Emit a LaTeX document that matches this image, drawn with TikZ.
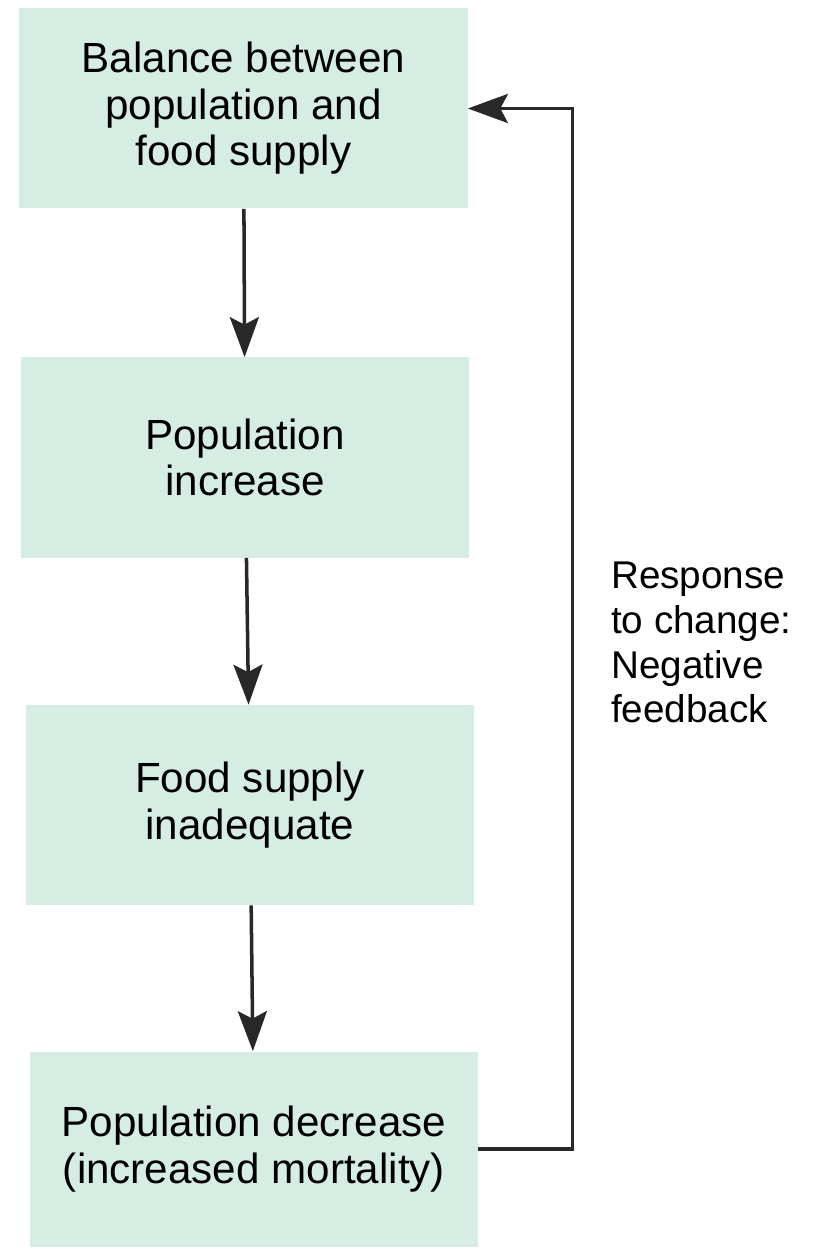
\documentclass[tikz,border=0pt]{standalone}
\usepackage{fontspec}
\setmainfont{Liberation Sans}
\usepackage{tikz}
\usetikzlibrary{arrows.meta}
\definecolor{mint}{RGB}{214,237,228}
\definecolor{ink}{RGB}{40,40,40}

\begin{document}
\begin{tikzpicture}[
    box/.style={rectangle,fill=mint,minimum width=8.96cm,minimum height=4cm,align=center,
                font=\fontsize{24}{26.5}\selectfont},
    arr/.style={line width=2pt,draw=ink,-{Stealth[length=0.8cm,width=0.58cm,inset=0.15cm]}}]
    % negative feedback loop: four stages and the return path
    \useasboundingbox (0,0) rectangle (16.38,-24.98);
    \node[box] (B1) at (4.87,-2.17) {Balance between\\population and\\food supply};
    \node[box] (B2) at (4.90,-9.15) {Population\\increase};
    \node[box] (B3) at (5.00,-16.10) {Food supply\\inadequate};
    \node[box,minimum height=3.9cm] (B4) at (5.08,-22.98) {Population decrease\\(increased mortality)};
    \node[anchor=west,align=left,font=\fontsize{22}{25.5}\selectfont] (R) at (12.1,-12.85)
        {Response\\to change:\\Negative\\feedback};
    \draw[arr] (B1) -- (B2);
    \draw[arr] (B2) -- (B3);
    \draw[arr] (B3) -- (B4);
    \draw[arr] (B4.east) -- ++(1.88,0) |- (B1.east);
    \end{tikzpicture}
\end{document}
